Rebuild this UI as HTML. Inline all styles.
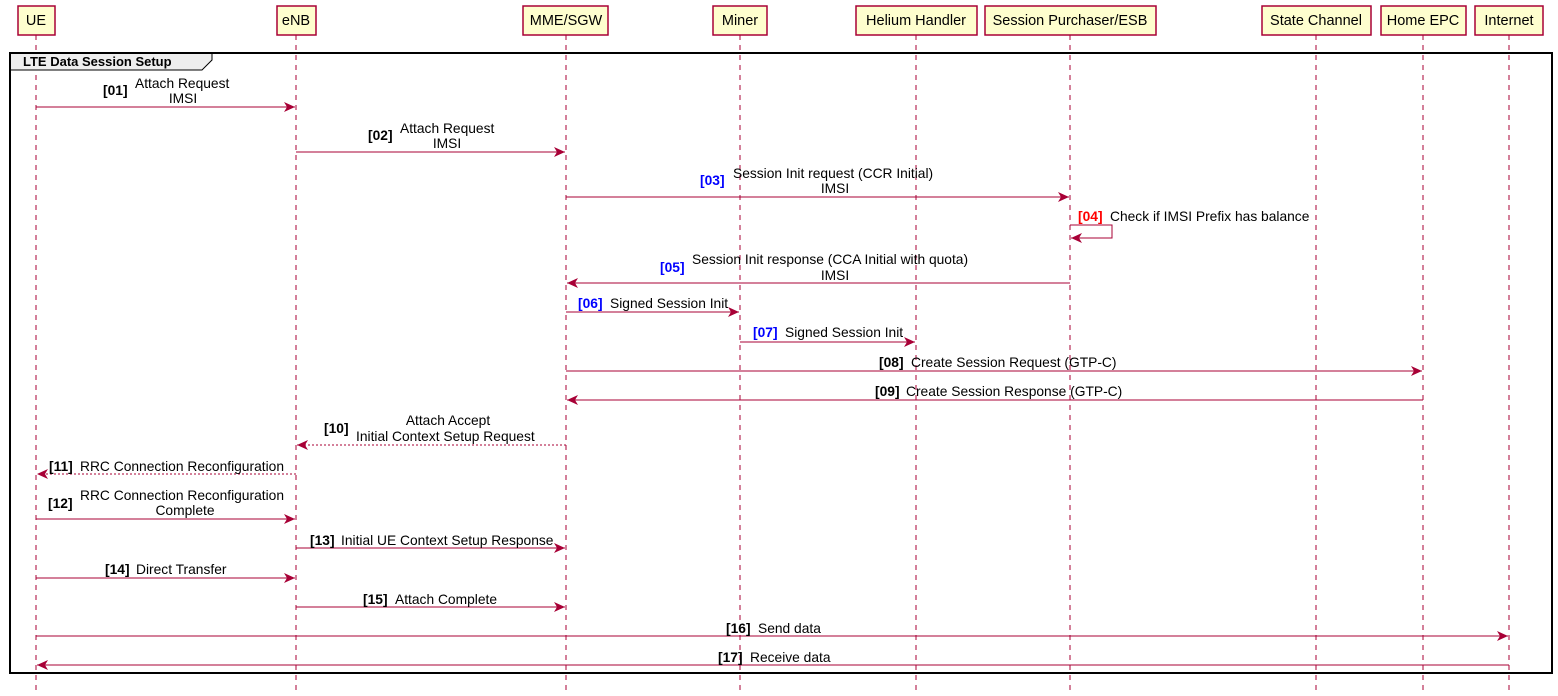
<!DOCTYPE html>
<html><head><meta charset="utf-8"><style>
html,body{margin:0;padding:0;background:#fff;width:1558px;height:696px;overflow:hidden}
svg text{font-family:"Liberation Sans",sans-serif;font-size:13.8px;fill:#000}
.b{font-weight:bold}
.blue{fill:#0000FF;font-weight:bold}
.red{fill:#FF0000;font-weight:bold}
.p{font-size:14.5px}
</style></head><body>
<svg width="1558" height="696" xmlns="http://www.w3.org/2000/svg">
<defs>
<marker id="a" markerWidth="11" markerHeight="10" refX="11" refY="5" orient="auto" markerUnits="userSpaceOnUse">
<path d="M0,0 L11,5 L0,10 L3,5 Z" fill="#A80036"/></marker>
</defs>
<g stroke="#A80036" stroke-width="1" stroke-dasharray="5,5">
<line x1="36" y1="35" x2="36" y2="690"/>
<line x1="296" y1="35" x2="296" y2="690"/>
<line x1="566" y1="35" x2="566" y2="690"/>
<line x1="740" y1="35" x2="740" y2="690"/>
<line x1="916" y1="35" x2="916" y2="690"/>
<line x1="1070" y1="35" x2="1070" y2="690"/>
<line x1="1316" y1="35" x2="1316" y2="690"/>
<line x1="1423" y1="35" x2="1423" y2="690"/>
<line x1="1509" y1="35" x2="1509" y2="690"/>
</g>
<g fill="#FEFECE" stroke="#A80036" stroke-width="1.5">
<rect x="18" y="6" width="37" height="29"/>
<rect x="277" y="6" width="39" height="29"/>
<rect x="523" y="6" width="85" height="29"/>
<rect x="713" y="6" width="54" height="29"/>
<rect x="856" y="6" width="121" height="29"/>
<rect x="985" y="6" width="171" height="29"/>
<rect x="1262" y="6" width="109" height="29"/>
<rect x="1381" y="6" width="85" height="29"/>
<rect x="1475" y="6" width="68" height="29"/>
</g>
<text x="36" y="25" text-anchor="middle" class="p">UE</text>
<text x="296" y="25" text-anchor="middle" class="p">eNB</text>
<text x="566" y="25" text-anchor="middle" class="p">MME/SGW</text>
<text x="740" y="25" text-anchor="middle" class="p">Miner</text>
<text x="916" y="25" text-anchor="middle" class="p">Helium Handler</text>
<text x="1070" y="25" text-anchor="middle" class="p">Session Purchaser/ESB</text>
<text x="1316" y="25" text-anchor="middle" class="p">State Channel</text>
<text x="1423" y="25" text-anchor="middle" class="p">Home EPC</text>
<text x="1509" y="25" text-anchor="middle" class="p">Internet</text>
<path d="M10,53 L212,53 L212,60 L202,70 L10,70 Z" fill="#EEEEEE" stroke="#000" stroke-width="1"/>
<rect x="10" y="53" width="1542" height="620" fill="none" stroke="#000" stroke-width="2"/>
<text x="23" y="66" class="b" style="font-size:13px">LTE Data Session Setup</text>
<g stroke="#A80036" stroke-width="1" fill="none">
<line x1="36" y1="107" x2="295" y2="107" marker-end="url(#a)"/>
<line x1="296" y1="152" x2="565" y2="152" marker-end="url(#a)"/>
<line x1="566" y1="197" x2="1069" y2="197" marker-end="url(#a)"/>
<polyline points="1070,225 1112,225 1112,238 1071,238" marker-end="url(#a)"/>
<line x1="1070" y1="283" x2="567" y2="283" marker-end="url(#a)"/>
<line x1="566" y1="312" x2="739" y2="312" marker-end="url(#a)"/>
<line x1="740" y1="342" x2="915" y2="342" marker-end="url(#a)"/>
<line x1="566" y1="371" x2="1422" y2="371" marker-end="url(#a)"/>
<line x1="1423" y1="400" x2="567" y2="400" marker-end="url(#a)"/>
<line x1="566" y1="445" x2="297" y2="445" stroke-dasharray="2,2" marker-end="url(#a)"/>
<line x1="296" y1="474" x2="37" y2="474" stroke-dasharray="2,2" marker-end="url(#a)"/>
<line x1="36" y1="519" x2="295" y2="519" marker-end="url(#a)"/>
<line x1="296" y1="548" x2="565" y2="548" marker-end="url(#a)"/>
<line x1="36" y1="578" x2="295" y2="578" marker-end="url(#a)"/>
<line x1="296" y1="607" x2="565" y2="607" marker-end="url(#a)"/>
<line x1="36" y1="636" x2="1508" y2="636" marker-end="url(#a)"/>
<line x1="1509" y1="665" x2="37" y2="665" marker-end="url(#a)"/>
</g>
<text x="103" y="95" class="b">[01]</text><text x="135" y="88">Attach Request</text><text x="183" y="103" text-anchor="middle">IMSI</text>
<text x="368" y="140" class="b">[02]</text><text x="400" y="133">Attach Request</text><text x="447" y="148" text-anchor="middle">IMSI</text>
<text x="700" y="185" class="blue">[03]</text><text x="733" y="178">Session Init request (CCR Initial)</text><text x="835" y="193" text-anchor="middle">IMSI</text>
<text x="1078" y="221" class="red">[04]</text><text x="1110" y="221">Check if IMSI Prefix has balance</text>
<text x="660" y="272" class="blue">[05]</text><text x="692" y="264">Session Init response (CCA Initial with quota)</text><text x="835" y="280" text-anchor="middle">IMSI</text>
<text x="578" y="308" class="blue">[06]</text><text x="610" y="308">Signed Session Init</text>
<text x="753" y="337" class="blue">[07]</text><text x="785" y="337">Signed Session Init</text>
<text x="879" y="367" class="b">[08]</text><text x="911" y="367">Create Session Request (GTP-C)</text>
<text x="875" y="396" class="b">[09]</text><text x="906" y="396">Create Session Response (GTP-C)</text>
<text x="324" y="433" class="b">[10]</text><text x="448" y="425" text-anchor="middle">Attach Accept</text><text x="356" y="441">Initial Context Setup Request</text>
<text x="49" y="471" class="b">[11]</text><text x="80" y="471">RRC Connection Reconfiguration</text>
<text x="48" y="508" class="b">[12]</text><text x="80" y="500">RRC Connection Reconfiguration</text><text x="185" y="515" text-anchor="middle">Complete</text>
<text x="310" y="545" class="b">[13]</text><text x="341" y="545">Initial UE Context Setup Response</text>
<text x="105" y="574" class="b">[14]</text><text x="136" y="574">Direct Transfer</text>
<text x="363" y="604" class="b">[15]</text><text x="395" y="604">Attach Complete</text>
<text x="726" y="633" class="b">[16]</text><text x="758" y="633">Send data</text>
<text x="718" y="662" class="b">[17]</text><text x="750" y="662">Receive data</text>
</svg>
</body></html>
